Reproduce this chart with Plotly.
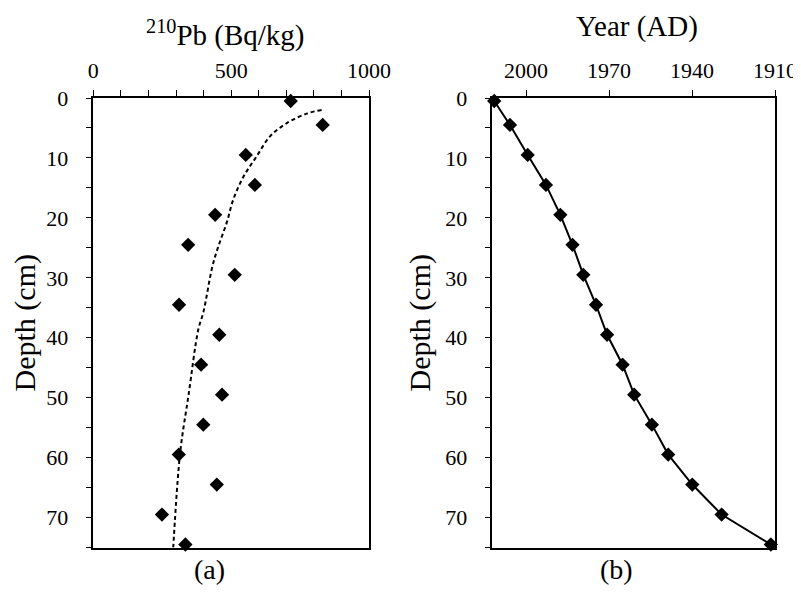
import plotly.graph_objects as go

# ---- data ----
depth = [0.5, 4.5, 9.5, 14.5, 19.5, 24.5, 29.5, 34.5, 39.5, 44.5, 49.5, 54.5, 59.5, 64.5, 69.5, 74.5]
pb210 = [716, 832, 553, 586, 442, 344, 513, 311, 457, 391, 467, 399, 310, 448, 249, 334]

fit_pb = [828, 774, 702, 641, 593, 545, 508, 484, 454, 432, 399, 381, 345, 315, 290]
fit_depth = [2.0, 2.6, 4.2, 6.4, 9.7, 13.1, 16.9, 20.8, 24.7, 28.1, 35.8, 38.6, 49.7, 59.2, 75.0]

year = [2011.5, 2005.8, 1999.4, 1992.8, 1987.6, 1983.2, 1979.3, 1974.7,
        1970.7, 1965.1, 1960.9, 1954.5, 1948.6, 1939.9, 1929.3, 1911.5]

pb_ticks = [0, 500, 1000]
year_ticks = [2000, 1970, 1940, 1910]
depth_ticks = [0, 10, 20, 30, 40, 50, 60, 70]

FONT = "'Liberation Serif', 'Times New Roman', Times, serif"
OFF = 8  # page body margin
W, H = 801 - OFF, 592 - OFF

fig = go.Figure()

fig.add_trace(go.Scatter(x=fit_pb, y=fit_depth, mode="lines", line=dict(color="black", width=2, dash="4px,3px", shape="spline"),
                         xaxis="x", yaxis="y", showlegend=False, cliponaxis=True))
fig.add_trace(go.Scatter(x=pb210, y=depth, mode="markers", marker=dict(symbol="diamond", size=11, color="black"),
                         xaxis="x", yaxis="y", showlegend=False, cliponaxis=False))
fig.add_trace(go.Scatter(x=year, y=depth, mode="lines+markers", line=dict(color="black", width=2),
                         marker=dict(symbol="diamond", size=11, color="black"),
                         xaxis="x2", yaxis="y2", showlegend=False, cliponaxis=False))

def px_x(p):
    return (p - OFF) / W

def px_y(p):
    return 1 - (p - OFF) / H

ydom = [px_y(547.5), px_y(98)]

common_axis = dict(showline=True, linecolor="black", linewidth=1.5, mirror=True, showgrid=False, zeroline=False,
                   ticks="outside", ticklen=6, tickwidth=1.2, tickcolor="black", automargin=False,
                   tickfont=dict(family=FONT, size=22, color="black"))

fig.update_layout(
    width=W, height=H,
    margin=dict(l=0, r=0, t=0, b=0, autoexpand=False),
    paper_bgcolor="white", plot_bgcolor="white",
    font=dict(family=FONT, color="black"),
    xaxis=dict(domain=[px_x(93.3), px_x(369)], range=[0, 1000], side="top", anchor="y",
               tickvals=pb_ticks, minor=dict(dtick=100, ticks="outside", ticklen=6, tickwidth=1.2, tickcolor="black"),
               ticklabelstandoff=3, **common_axis),
    yaxis=dict(domain=ydom, range=[75, 0], anchor="x", tickvals=depth_ticks,
               minor=dict(dtick=5, ticks="outside", ticklen=6, tickwidth=1.2, tickcolor="black"),
               ticklabelstandoff=13,
               title=dict(text="Depth (cm)", font=dict(family=FONT, size=30), standoff=6), **common_axis),
    xaxis2=dict(domain=[px_x(492.3), px_x(775)], range=[2012.2, 1910], side="top", anchor="y2",
                tickvals=year_ticks, ticklabelstandoff=3, **common_axis),
    yaxis2=dict(domain=ydom, range=[75, 0], anchor="x2", tickvals=depth_ticks,
                minor=dict(dtick=5, ticks="outside", ticklen=6, tickwidth=1.2, tickcolor="black"),
                ticklabelstandoff=13,
                title=dict(text="Depth (cm)", font=dict(family=FONT, size=30), standoff=6), **common_axis),
    annotations=[
        dict(text="<sup>210</sup>Pb (Bq/kg)", x=px_x(226), y=px_y(33), xref="paper", yref="paper",
             showarrow=False, font=dict(family=FONT, size=29), xanchor="center", yanchor="middle"),
        dict(text="Year (AD)", x=px_x(637), y=px_y(27), xref="paper", yref="paper",
             showarrow=False, font=dict(family=FONT, size=29), xanchor="center", yanchor="middle"),
        dict(text="(a)", x=px_x(209), y=px_y(569), xref="paper", yref="paper",
             showarrow=False, font=dict(family=FONT, size=28), xanchor="center", yanchor="middle"),
        dict(text="(b)", x=px_x(616), y=px_y(569), xref="paper", yref="paper",
             showarrow=False, font=dict(family=FONT, size=28), xanchor="center", yanchor="middle"),
    ],
)

fig.write_html("out.html")
